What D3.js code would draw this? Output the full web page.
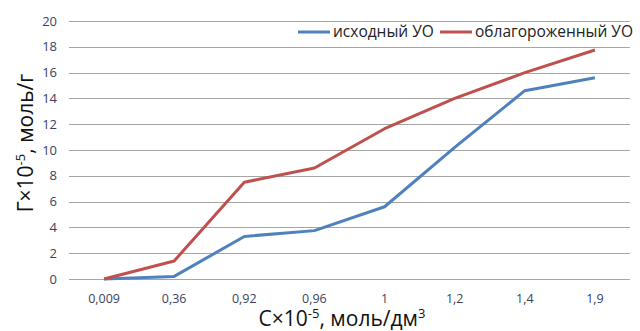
<!DOCTYPE html>
<html>
<head>
<meta charset="utf-8">
<script src="https://cdn.jsdelivr.net/npm/d3@7"></script>
<style>
  body { margin: 0; background: #fff; }
  svg { display: block; font-family: "Open Sans", "Noto Sans", sans-serif; }
</style>
</head>
<body>
<svg id="chart" width="640" height="331"></svg>
<script>
const categories = ['0,009', '0,36', '0,92', '0,96', '1', '1,2', '1,4', '1,9'];
const initial = [0, 0.2, 3.3, 3.75, 5.6, 10.2, 14.6, 15.6];
const refined = [0, 1.4, 7.5, 8.6, 11.65, 14, 16, 17.75];
const yTicks = [0, 2, 4, 6, 8, 10, 12, 14, 16, 18, 20];
const seriesNames = ['исходный УО', 'облагороженный УО'];
const colors = ['#4f81bd', '#c0504d'];

const svg = d3.select('#chart');
const margin = { left: 69, right: 10, top: 21, bottom: 52 };

const x = d3.scaleBand().domain(categories).range([margin.left, 630]);
const y = d3.scaleLinear().domain([0, 20]).range([279, 21]);

// сетка
svg.append('g')
  .selectAll('line')
  .data(yTicks)
  .join('line')
  .attr('x1', margin.left)
  .attr('x2', 630)
  .attr('y1', d => Math.round(y(d)) + 0.5)
  .attr('y2', d => Math.round(y(d)) + 0.5)
  .attr('stroke', '#a6a6a6')
  .attr('stroke-width', 1);

// подписи оси Y
const yAxis = svg.append('g')
  .attr('transform', `translate(${margin.left - 12},0)`)
  .call(d3.axisLeft(y).tickValues(yTicks).tickSize(0).tickPadding(0));
yAxis.select('.domain').remove();
yAxis.selectAll('text')
  .attr('font-size', 13)
  .attr('font-family', '"Open Sans", sans-serif')
  .attr('fill', '#3b3f5c');

// подписи оси X
const xAxis = svg.append('g')
  .attr('transform', `translate(0,${y(0)})`)
  .call(d3.axisBottom(x).tickSize(0).tickPadding(15));
xAxis.select('.domain').remove();
xAxis.selectAll('text')
  .attr('font-size', 12.5)
  .attr('font-family', '"Open Sans", sans-serif')
  .attr('fill', '#3b3f5c');

// линии
const line = d3.line()
  .x((d, i) => x(categories[i]) + x.bandwidth() / 2)
  .y(d => y(d));

[initial, refined].forEach((s, i) => {
  svg.append('path')
    .datum(s)
    .attr('fill', 'none')
    .attr('stroke', colors[i])
    .attr('stroke-width', 3)
    .attr('stroke-linejoin', 'round')
    .attr('d', line);
});

// легенда
const legend = svg.append('g').attr('transform', 'translate(0,32)');
const legendPos = [298, 440];
seriesNames.forEach((name, i) => {
  legend.append('line')
    .attr('x1', legendPos[i]).attr('x2', legendPos[i] + 32)
    .attr('y1', 0).attr('y2', 0)
    .attr('stroke', colors[i]).attr('stroke-width', 3);
  legend.append('text')
    .attr('x', legendPos[i] + 35)
    .attr('y', 5)
    .attr('font-size', 15.5)
    .attr('fill', '#222')
    .text(name);
});

// заголовки осей
svg.append('text')
  .attr('transform', 'translate(33,143) rotate(-90)')
  .attr('text-anchor', 'middle')
  .attr('font-size', 21)
  .attr('fill', '#111')
  .html('Г×10<tspan dy="-8" font-size="13">-5</tspan><tspan dy="8">, моль/г</tspan>');

svg.append('text')
  .attr('x', 342)
  .attr('y', 326)
  .attr('text-anchor', 'middle')
  .attr('font-size', 21)
  .attr('fill', '#111')
  .html('C×10<tspan dy="-8" font-size="13">-5</tspan><tspan dy="8">, моль/дм</tspan><tspan dy="-8" font-size="13">3</tspan>');
</script>
</body>
</html>
